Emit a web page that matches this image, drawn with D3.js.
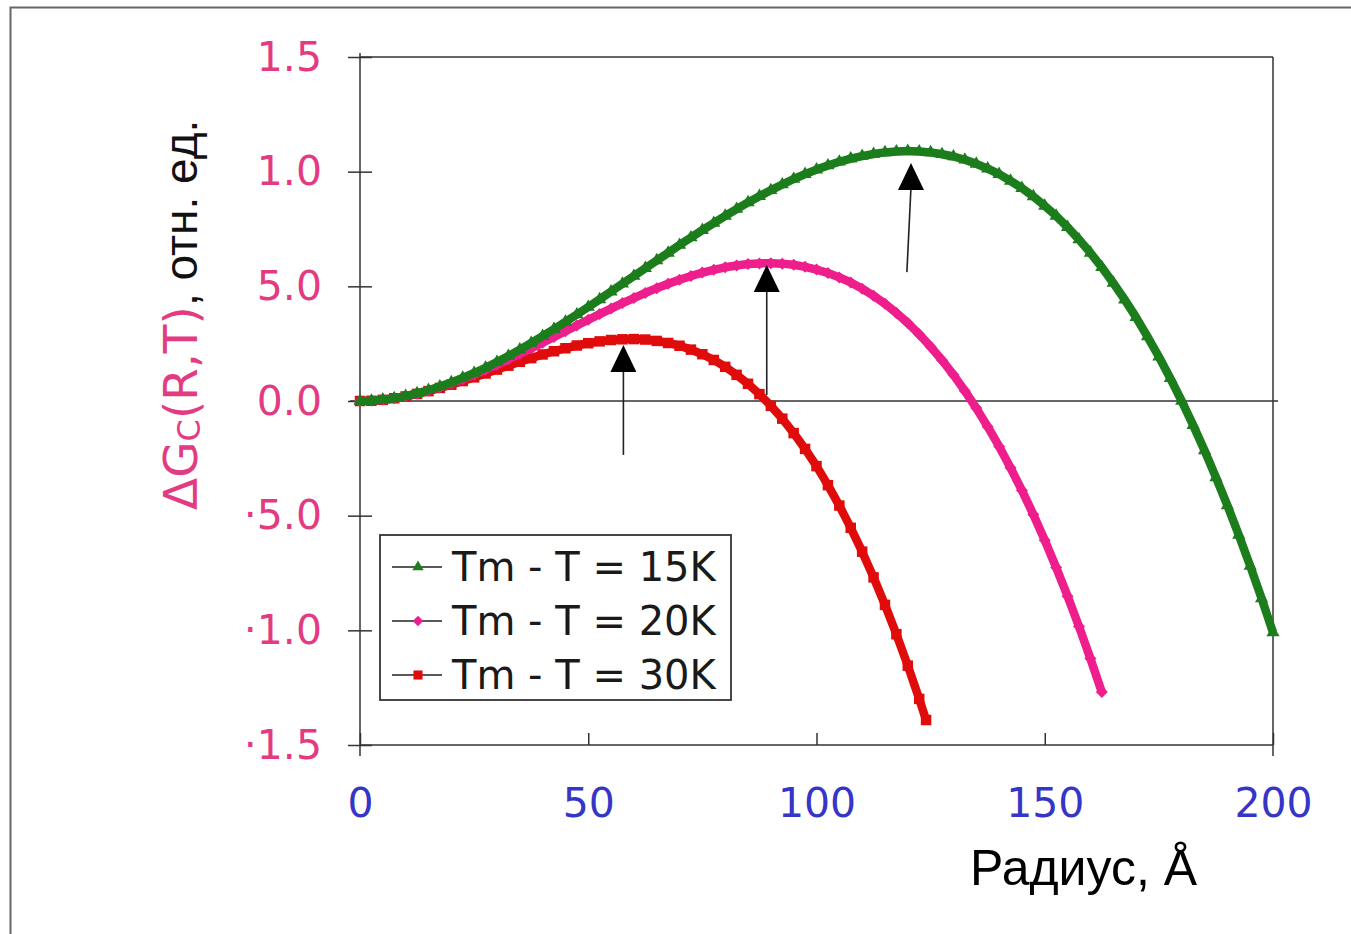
<!DOCTYPE html>
<html>
  <head>
    <meta charset="utf-8">
    <script src="https://d3js.org/d3.v7.min.js"></script>
    <title>ΔGc(R,T)</title>
    <style>
      body { margin: 0px; background: #fff; }
      .domain { display: none; }
      .tick line { stroke: #333; stroke-width: 1.5; }
      .ytick text { fill: #e33b82; font-size: 41px; font-family: "DejaVu Sans", sans-serif; }
      .xtick text { fill: #3535c8; font-size: 41px; font-family: "DejaVu Sans", sans-serif; }
      .legend-label { fill: #1a1a1a; font-size: 40px; font-family: "DejaVu Sans", sans-serif; }
    </style>
  </head>
  <body>
    <div id="chart"></div>
    <script>
      // radius grid, Å
      const radius = [0, 2.5, 5, 7.5, 10, 12.5, 15, 17.5, 20, 22.5, 25, 27.5, 30, 32.5, 35, 37.5,
        40, 42.5, 45, 47.5, 50, 52.5, 55, 57.5, 60, 62.5, 65, 67.5, 70, 72.5, 75, 77.5,
        80, 82.5, 85, 87.5, 90, 92.5, 95, 97.5, 100, 102.5, 105, 107.5, 110, 112.5, 115, 117.5,
        120, 122.5, 125, 127.5, 130, 132.5, 135, 137.5, 140, 142.5, 145, 147.5, 150, 152.5, 155, 157.5,
        160, 162.5, 165, 167.5, 170, 172.5, 175, 177.5, 180, 182.5, 185, 187.5, 190, 192.5, 195, 197.5, 200];

      // Tm - T = 15K
      const dg15 = [0, 0.001, 0.006, 0.012, 0.021, 0.033, 0.047, 0.063, 0.081, 0.101, 0.122, 0.145, 0.170, 0.196, 0.224, 0.253,
        0.283, 0.313, 0.345, 0.377, 0.410, 0.443, 0.477, 0.511, 0.545, 0.579, 0.613, 0.646, 0.680, 0.713, 0.745, 0.776,
        0.807, 0.837, 0.866, 0.893, 0.919, 0.944, 0.968, 0.989, 1.009, 1.027, 1.043, 1.057, 1.068, 1.077, 1.084, 1.088,
        1.090, 1.088, 1.084, 1.076, 1.066, 1.052, 1.034, 1.013, 0.989, 0.960, 0.928, 0.892, 0.851, 0.807, 0.758, 0.704,
        0.646, 0.583, 0.515, 0.442, 0.365, 0.281, 0.193, 0.099, 0.000, -0.105, -0.216, -0.333, -0.455, -0.584, -0.719, -0.861, -1.009];

      // Tm - T = 20K
      const dg20 = [0, 0.001, 0.005, 0.012, 0.021, 0.032, 0.045, 0.060, 0.077, 0.095, 0.115, 0.136, 0.158, 0.181, 0.205, 0.229,
        0.254, 0.279, 0.304, 0.329, 0.354, 0.379, 0.403, 0.427, 0.449, 0.471, 0.492, 0.511, 0.529, 0.545, 0.560, 0.572,
        0.583, 0.591, 0.597, 0.600, 0.601, 0.599, 0.594, 0.585, 0.573, 0.558, 0.539, 0.517, 0.490, 0.459, 0.424, 0.384,
        0.340, 0.291, 0.237, 0.178, 0.114, 0.044, -0.031, -0.112, -0.198, -0.291, -0.390, -0.495, -0.607, -0.726,
        -0.851, -0.983, -1.123, -1.269];

      // Tm - T = 30K (last point at 124 Å)
      const radius30 = radius.slice(0, 50).concat([124]);
      const dg30 = [0, 0.001, 0.005, 0.012, 0.020, 0.031, 0.043, 0.057, 0.071, 0.087, 0.103, 0.120, 0.137, 0.154, 0.171, 0.187,
        0.203, 0.217, 0.230, 0.242, 0.252, 0.260, 0.266, 0.269, 0.270, 0.268, 0.262, 0.253, 0.241, 0.224, 0.204, 0.179,
        0.149, 0.114, 0.075, 0.030, -0.021, -0.077, -0.140, -0.209, -0.284, -0.367, -0.456, -0.553, -0.657, -0.769,
        -0.889, -1.017, -1.154, -1.299, -1.391];

      const legendLabels = ['Tm - T = 15K', 'Tm - T = 20K', 'Tm - T = 30K'];
      const seriesColors = ['#1c7d1c', '#ee1e8c', '#e00b0b'];

      const xTicks = [0, 50, 100, 150, 200];
      const yTicks = [1.5, 1.0, 0.5, 0, -0.5, -1.0, -1.5];
      const yTickLabels = ['1.5', '1.0', '5.0', '0.0', '·5.0', '·1.0', '·1.5'];

      // arrows pointing at maxima: [R bottom, value bottom, R tip, value tip]
      const arrows = [
        [57.7, -0.235, 57.7, 0.244],
        [89.1, 0.026, 89.1, 0.593],
        [119.8, 0.562, 120.7, 1.038]
      ];

      const width = 1351, height = 934;
      const svg = d3.select('#chart').append('svg')
        .attr('width', width)
        .attr('height', height);

      // outer frame (runs off the picture on right/bottom)
      svg.append('rect')
        .attr('x', 10.5).attr('y', 7.5)
        .attr('width', 1400).attr('height', 1000)
        .attr('fill', 'none')
        .attr('stroke', '#666')
        .attr('stroke-width', 2);

      const x = d3.scaleLinear().domain([0, 200]).range([360, 1273]);
      const y = d3.scaleLinear().domain([-1.5, 1.5]).range([745, 57]);

      // plot frame lines
      const frame = svg.append('g').attr('stroke', '#333').attr('stroke-width', 1.5);
      frame.append('line').attr('x1', x(0)).attr('x2', x(200)).attr('y1', y(1.5)).attr('y2', y(1.5));
      frame.append('line').attr('x1', x(200)).attr('x2', x(200)).attr('y1', y(1.5)).attr('y2', y(-1.5) + 11);
      frame.append('line').attr('x1', x(0)).attr('x2', x(0)).attr('y1', y(1.5) - 4).attr('y2', y(-1.5) + 11);
      frame.append('line').attr('x1', x(0)).attr('x2', x(200)).attr('y1', y(-1.5)).attr('y2', y(-1.5));
      frame.append('line').attr('x1', x(0) - 10).attr('x2', x(200) + 5).attr('y1', y(0)).attr('y2', y(0));

      // axes
      const yAxisG = svg.append('g')
        .attr('class', 'ytick')
        .attr('transform', `translate(${x(0)},0)`)
        .call(d3.axisLeft(y).tickValues(yTicks)
          .tickFormat((d, i) => yTickLabels[i])
          .tickSize(12).tickPadding(26));
      yAxisG.selectAll('.tick line').attr('x1', 12);

      svg.append('g')
        .attr('class', 'xtick')
        .attr('transform', `translate(0,${y(-1.5)})`)
        .call(d3.axisBottom(x).tickValues(xTicks)
          .tickFormat(d3.format('d'))
          .tickSize(-12).tickPadding(43));

      // series
      const series = [
        { xs: radius, ys: dg15, symbol: d3.symbolTriangle, size: 75, rot: 0 },
        { xs: radius, ys: dg20, symbol: d3.symbolSquare, size: 72, rot: 45 },
        { xs: radius30, ys: dg30, symbol: d3.symbolSquare, size: 110, rot: 0 }
      ];

      const line = d3.line().x(d => x(d[0])).y(d => y(d[1]));

      // draw 15K last so it sits on top like in the original
      [2, 1, 0].forEach(k => {
        const s = series[k];
        const pts = s.ys.map((v, i) => [s.xs[i], v]);
        const g = svg.append('g');
        g.append('path')
          .attr('d', line(pts))
          .attr('fill', 'none')
          .attr('stroke', seriesColors[k])
          .attr('stroke-width', 8.5)
          .attr('stroke-linejoin', 'round');
        g.selectAll('path.mark').data(pts)
          .enter().append('path')
          .attr('class', 'mark')
          .attr('d', d3.symbol().type(s.symbol).size(s.size))
          .attr('transform', d => `translate(${x(d[0])},${y(d[1])}) rotate(${s.rot})`)
          .attr('fill', seriesColors[k]);
      });

      // arrows
      const arrowG = svg.append('g');
      arrows.forEach(a => {
        const tx = x(a[2]), ty = y(a[3]);
        arrowG.append('line')
          .attr('x1', x(a[0])).attr('y1', y(a[1]))
          .attr('x2', tx).attr('y2', ty + 24)
          .attr('stroke', '#222').attr('stroke-width', 1.6);
        arrowG.append('path')
          .attr('d', `M${tx},${ty} L${tx + 13},${ty + 27} L${tx - 13},${ty + 27} Z`)
          .attr('fill', '#000');
      });

      // legend
      const legend = svg.append('g').attr('transform', 'translate(380,535)');
      legend.append('rect')
        .attr('width', 351).attr('height', 165)
        .attr('fill', '#fff')
        .attr('stroke', '#333').attr('stroke-width', 1.8);
      legendLabels.forEach((lab, i) => {
        const s = series[i];
        const row = legend.append('g').attr('transform', `translate(0,${32 + i * 54})`);
        row.append('line').attr('x1', 12).attr('x2', 62)
          .attr('stroke', '#222').attr('stroke-width', 1.6);
        row.append('path')
          .attr('d', d3.symbol().type(s.symbol).size(s.size * 0.75))
          .attr('transform', `translate(38,0) rotate(${s.rot})`)
          .attr('fill', seriesColors[i]);
        row.append('text')
          .attr('class', 'legend-label')
          .attr('x', 72).attr('y', 14)
          .text(lab);
      });

      // y title
      const yTitle = svg.append('text')
        .attr('transform', 'translate(197,510) rotate(-90)')
        .style('font-size', '47px')
        .style('font-family', '"DejaVu Sans", sans-serif');
      yTitle.append('tspan').attr('fill', '#e33b82').text('ΔG');
      yTitle.append('tspan').attr('fill', '#e33b82').style('font-size', '32px').attr('dy', 3).text('C');
      yTitle.append('tspan').attr('fill', '#e33b82').attr('dy', -3).text('(R,T)');
      yTitle.append('tspan').attr('fill', '#111')
        .style('font-family', '"Liberation Sans", sans-serif')
        .style('font-size', '46px')
        .text(', отн. ед.');

      // x title
      svg.append('text')
        .attr('x', 970).attr('y', 885)
        .attr('textLength', 227)
        .attr('lengthAdjust', 'spacingAndGlyphs')
        .style('font-size', '50px')
        .style('font-family', '"Liberation Sans", sans-serif')
        .attr('fill', '#000')
        .text('Радиус, Å');
    </script>
  </body>
</html>
